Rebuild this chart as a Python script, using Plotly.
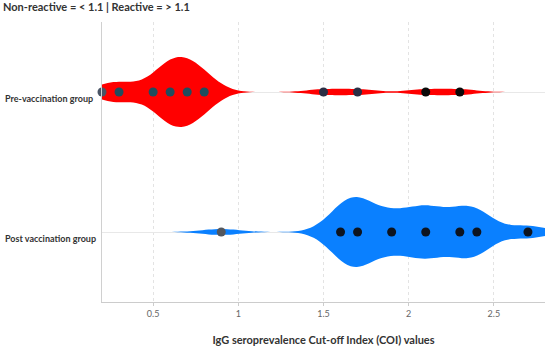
import plotly.graph_objects as go

# Categories
groups = ["Post vaccination group", "Pre-vaccination group"]

# Values (COI) per group, with repeat counts estimated from violin shape
pre_values = [0.2, 0.3, 0.5, 0.6, 0.7, 0.8, 1.5, 1.7, 2.1, 2.3]
pre_counts = [1, 3, 2, 7, 6, 4, 1, 1, 1, 1]
post_values = [0.9, 1.6, 1.7, 1.9, 2.1, 2.3, 2.4, 2.7]
post_counts = [1, 4, 8, 5, 7, 4, 5, 2]

# Point colours
pre_point_colors = ["#4a5566", "#1f4d5e", "#1f4d5e", "#1f4d5e", "#1f4d5e", "#1f4d5e",
                    "#2b2f45", "#2b2f45", "#0a0a0a", "#0a0a0a"]
post_point_colors = ["#53575e", "#0d1420", "#0d1420", "#0d1420", "#0d1420", "#0d1420",
                     "#0d1420", "#0d1420"]

x_ticks = [0.5, 1, 1.5, 2, 2.5]
x_tick_labels = ["0.5", "1", "1.5", "2", "2.5"]

title_text = "Non-reactive = < 1.1 | Reactive = > 1.1"
x_title = "IgG seroprevalence Cut-off Index (COI) values"

RED = "#ff0000"
BLUE = "#0a80ff"
FONT = "Lato"


def expand(vals, counts):
    out = []
    for v, c in zip(vals, counts):
        out += [v] * c
    return out


fig = go.Figure()
for name, vals, counts, col, bw, span in [
    (groups[1], pre_values, pre_counts, RED, 0.1, [0.0, 2.7]),
    (groups[0], post_values, post_counts, BLUE, 0.11, [0.5, 3.0]),
]:
    data = expand(vals, counts)
    fig.add_trace(go.Violin(
        x=data, y=[name] * len(data), orientation="h",
        fillcolor=col, line=dict(color=col, width=0), opacity=1,
        points=False, box_visible=False, meanline_visible=False,
        bandwidth=bw, spanmode="manual", span=span,
        width=0.5, scalemode="width", side="both", showlegend=False,
        hoverinfo="skip",
    ))

for name, vals, cols in [
    (groups[1], pre_values, pre_point_colors),
    (groups[0], post_values, post_point_colors),
]:
    fig.add_trace(go.Scatter(
        x=vals, y=[name] * len(vals), mode="markers", cliponaxis=False,
        marker=dict(size=9, color=cols, line=dict(width=0)),
        showlegend=False, hoverinfo="x",
    ))

for i, g in enumerate(groups):
    fig.add_annotation(
        text=g, xref="paper", x=-99 / 443, xanchor="left",
        yref="y", y=i, yanchor="middle", yshift=-6, showarrow=False,
        font=dict(family=FONT, size=9, color="#333333", weight="bold"),
    )

fig.update_layout(
    width=550, height=350,
    margin=dict(l=102, r=5, t=22, b=48),
    plot_bgcolor="white", paper_bgcolor="white",
    font=dict(family=FONT),
    title=dict(text=title_text, x=3 / 550, xref="container", xanchor="left",
               y=1 - 7 / 350, yref="container", yanchor="middle",
               font=dict(family=FONT, size=11, color="#333333", weight="bold")),
    xaxis=dict(
        range=[0.2, 2.8], tickvals=x_ticks, ticktext=x_tick_labels,
        showgrid=True, gridcolor="#e3e3e3", griddash="dot", gridwidth=1,
        showline=True, linecolor="#cccccc", linewidth=1,
        ticks="outside", ticklen=3, tickcolor="#cccccc",
        tickfont=dict(family=FONT, size=9, color="#666666"),
        zeroline=False,
        title=dict(text=x_title, standoff=18,
                   font=dict(family=FONT, size=11, color="#333333", weight="bold")),
    ),
    yaxis=dict(
        type="category", categoryorder="array", categoryarray=groups,
        range=[-0.5, 1.5], showticklabels=False,
        showgrid=True, gridcolor="#e8e8e8", gridwidth=1,
        showline=True, linecolor="#d0d0d0", linewidth=1,
        zeroline=False, ticks="",
    ),
)

fig.write_html("out.html", config={"displayModeBar": False},
               post_script="document.body.style.margin='0px';")
